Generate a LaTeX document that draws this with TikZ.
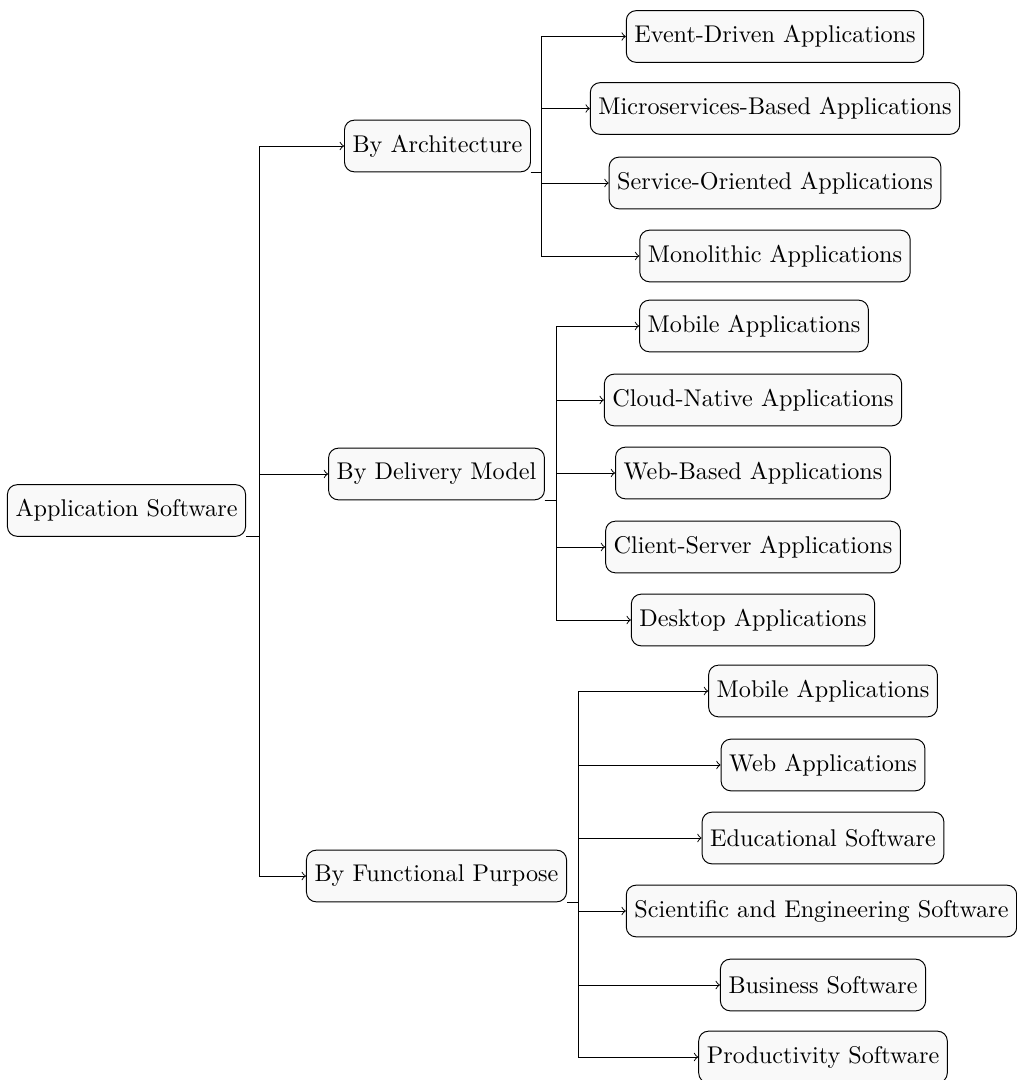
\documentclass[tikz,border=0pt]{standalone}
\begin{document}
\begin{tikzpicture}[x=0.41322pt, y=-0.41322pt,
  box/.style={draw, rounded corners=4pt, fill=gray!5, minimum height=0.75cm,
    inner xsep=0.3333em, font=\normalsize},
  link/.style={->, line width=0.4pt}]
\useasboundingbox (0,0) rectangle (1016,1080);

% root and first level
\node[box] (root)  at (126.5,510.5) {Application Software};
\node[box] (arch)  at (437.5,146) {By Architecture};
\node[box] (deliv) at (436.5,474) {By Delivery Model};
\node[box] (func)  at (436.5,876) {By Functional Purpose};

% by architecture
\node[box] (a1) at (775,36.5)  {Event-Driven Applications};
\node[box] (a2) at (775,108.5) {Microservices-Based Applications};
\node[box] (a3) at (775,183)   {Service-Oriented Applications};
\node[box] (a4) at (775,256)   {Monolithic Applications};

% by delivery model
\node[box] (d1) at (754,326) {Mobile Applications};
\node[box] (d2) at (753,400) {Cloud-Native Applications};
\node[box] (d3) at (753,473) {Web-Based Applications};
\node[box] (d4) at (753,547) {Client-Server Applications};
\node[box] (d5) at (753,620) {Desktop Applications};

% by functional purpose
\node[box] (f1) at (823,691)  {Mobile Applications};
\node[box] (f2) at (823,765)  {Web Applications};
\node[box] (f3) at (823,838)  {Educational Software};
\node[box] (f4) at (821.5,911){Scientific and Engineering Software};
\node[box] (f5) at (823,985)  {Business Software};
\node[box] (f6) at (823,1057) {Productivity Software};

% folder-style connectors: stub from the parent's corner, trunk, then arrow
\foreach \c in {arch,deliv,func}
  \draw[link] (root.south east) -- ++(13,0) |- (\c.west);
\foreach \c in {a1,a2,a3,a4}
  \draw[link] (arch.south east) -- ++(10.5,0) |- (\c.west);
\foreach \c in {d1,d2,d3,d4,d5}
  \draw[link] (deliv.south east) -- ++(12,0) |- (\c.west);
\foreach \c in {f1,f2,f3,f4,f5,f6}
  \draw[link] (func.south east) -- ++(11.5,0) |- (\c.west);
\end{tikzpicture}
\end{document}
